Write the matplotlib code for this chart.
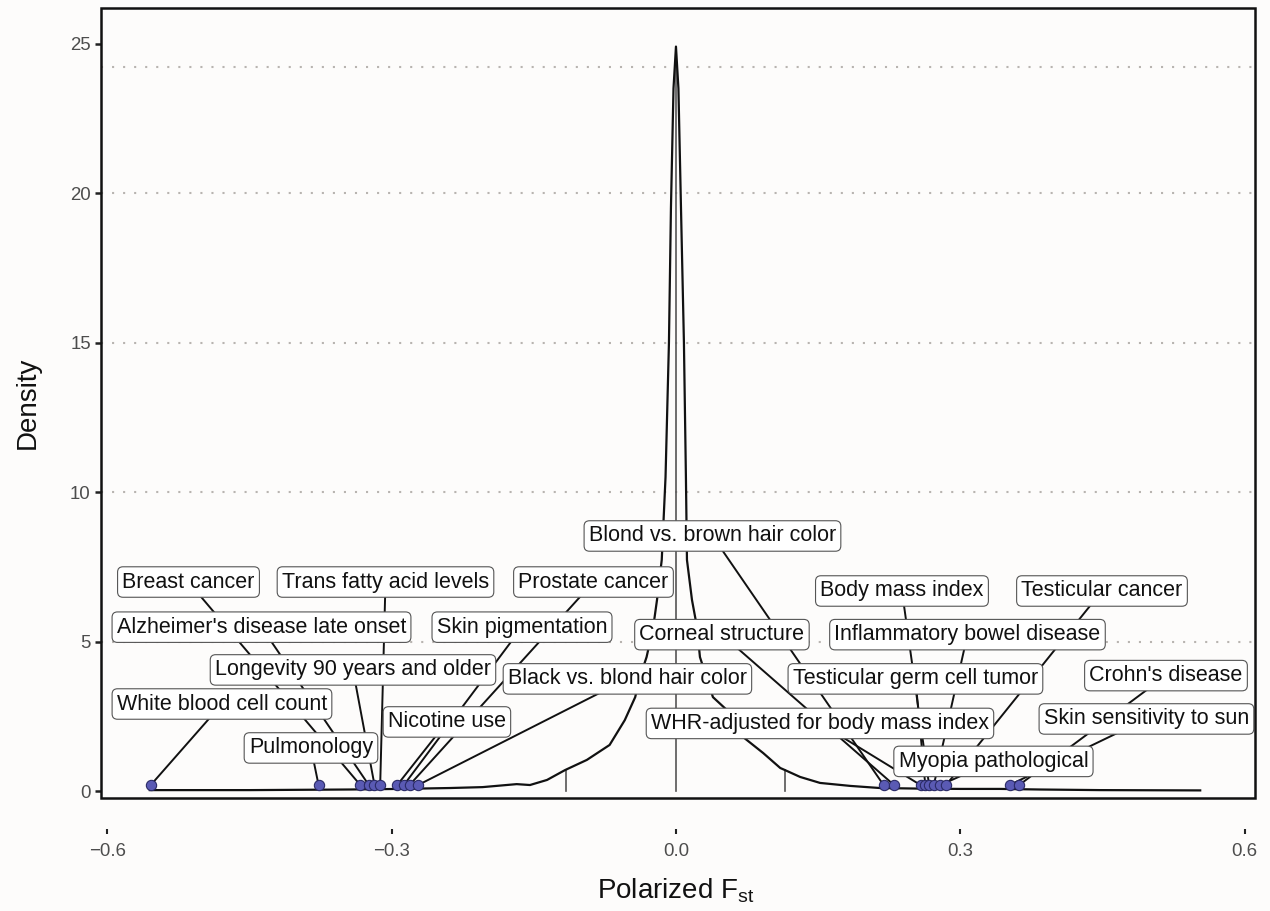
import matplotlib
matplotlib.use("Agg")
import matplotlib.pyplot as plt
import numpy as np
from matplotlib.patches import Rectangle

# ---------------- data ----------------
curve_x = [-0.555, -0.449, -0.344, -0.291, -0.238, -0.204, -0.186, -0.168, -0.154,
           -0.136, -0.117, -0.094, -0.070, -0.054, -0.043, -0.038, -0.031, -0.024,
           -0.020, -0.015, -0.011, -0.0074, -0.0053, -0.0026, 0.0, 0.0026, 0.0053,
           0.0084, 0.0105, 0.0116, 0.0169, 0.0222, 0.0253, 0.039, 0.054, 0.071,
           0.092, 0.110, 0.115, 0.131, 0.152, 0.184, 0.215, 0.257, 0.300, 0.342,
           0.384, 0.447, 0.553]
curve_y = [0.03, 0.03, 0.05, 0.07, 0.10, 0.13, 0.18, 0.23, 0.20,
           0.37, 0.70, 1.04, 1.54, 2.37, 3.14, 3.81, 4.48, 5.48,
           6.39, 7.73, 10.5, 15.0, 19.5, 23.5, 24.9, 23.5, 19.5,
           15.0, 10.5, 7.73, 6.39, 5.48, 4.48, 3.14, 2.70, 1.80,
           1.27, 0.77, 0.70, 0.47, 0.27, 0.17, 0.10, 0.08, 0.07, 0.07,
           0.05, 0.03, 0.02]

quantile_lines = [-0.116, 0.0, 0.115]

traits = ["White blood cell count", "Pulmonology", "Breast cancer",
          "Alzheimer's disease late onset", "Longevity 90 years and older",
          "Trans fatty acid levels", "Nicotine use", "Skin pigmentation",
          "Prostate cancer", "Black vs. blond hair color",
          "Blond vs. brown hair color", "Corneal structure",
          "WHR-adjusted for body mass index", "Testicular germ cell tumor",
          "Body mass index", "Inflammatory bowel disease", "Myopia pathological",
          "Testicular cancer", "Skin sensitivity to sun", "Crohn's disease"]
trait_fst = [-0.554, -0.377, -0.333, -0.324, -0.318, -0.312, -0.294, -0.287,
             -0.281, -0.272, 0.219, 0.230, 0.258, 0.263, 0.267, 0.272, 0.279,
             0.285, 0.352, 0.362]
point_level = 0.2

y_ticks = [0, 5, 10, 15, 20, 25]
x_ticks = [-0.6, -0.3, 0.0, 0.3, 0.6]
x_tick_labels = ["\u22120.6", "\u22120.3", "0.0", "0.3", "0.6"]
grid_levels = [5, 10, 15, 20, 24.2]

# label layout (label centres, data coordinates)
label_x = [-0.4789, -0.385, -0.5142, -0.4372, -0.3407, -0.3064, -0.2416, -0.1624,
           -0.087, -0.0512, 0.0385, 0.0485, 0.1519, 0.2526, 0.2384, 0.3075,
           0.3349, 0.4494, 0.4963, 0.5169]
label_y = [2.91, 1.44, 6.99, 5.48, 4.05, 6.99, 2.31, 5.48, 6.99, 3.75,
           8.53, 5.23, 2.26, 3.75, 6.69, 5.23, 0.99, 6.69, 2.41, 3.86]

# ---------------- figure ----------------
W, H = 1270, 911
bg = "#fdfcfb"
fig = plt.figure(figsize=(W / 100, H / 100), dpi=100, facecolor=bg)
ax = fig.add_axes([101 / W, 1 - 798 / H, (1255 - 101) / W, (798 - 8) / H])
ax.set_facecolor(bg)
ax.set_xlim(-0.6065, 0.6108)
ax.set_ylim(-0.234, 26.19)

for g in grid_levels:
    ax.axhline(g, color="#b8b4b0", lw=1.5, ls=(0, (1, 4.3)), zorder=1)

for q in quantile_lines:
    ax.plot([q, q], [0, np.interp(q, curve_x, curve_y)], color="#555555",
            lw=1.2, zorder=2)

ax.plot(curve_x, curve_y, color="#111111", lw=1.6, zorder=3,
        solid_joinstyle="round")

for lx, ly, fx in zip(label_x, label_y, trait_fst):
    ax.plot([lx, fx], [ly, point_level], color="#111111", lw=1.4, zorder=4)

ax.scatter(trait_fst, [point_level] * len(trait_fst), s=55, facecolor="#5a5ab4",
           edgecolor="#2b2b66", linewidth=0.8, zorder=6)

for name, lx, ly in zip(traits, label_x, label_y):
    ax.text(lx, ly, name, ha="center", va="center", fontsize=15.5,
            family="Liberation Sans", color="#111111", zorder=7,
            bbox=dict(boxstyle="round,pad=0.22,rounding_size=0.25", fc="white",
                      ec="#555555", lw=0.8))

# axes decorations
for s in ax.spines.values():
    s.set_visible(False)
ax.spines["bottom"].set_position(("outward", 22.3))
ax.add_patch(Rectangle((0, 0), 1, 1, transform=ax.transAxes, fill=False,
                       lw=1.8, ec="#111111", clip_on=False, zorder=10))

ax.set_yticks(y_ticks)
ax.set_xticks(x_ticks)
ax.set_xticklabels(x_tick_labels)
ax.tick_params(axis="y", length=4.3, width=1.8, color="#222222", pad=3,
               labelsize=13.4, labelcolor="#4d4d4d")
ax.tick_params(axis="x", length=3.6, width=1.5, color="#222222", pad=6.5,
               labelsize=13.4, labelcolor="#4d4d4d")
for t in ax.get_xticklabels() + ax.get_yticklabels():
    t.set_family("Liberation Sans")

plt.rcParams["mathtext.fontset"] = "custom"
plt.rcParams["mathtext.rm"] = "Liberation Sans"
fig.text(676 / W, 1 - 898 / H, r"Polarized F$_{\mathrm{st}}$", ha="center",
         va="baseline", fontsize=20, family="Liberation Sans", color="#111111")
fig.text(28 / W, 1 - 403 / H, "Density", ha="center", va="center",
         rotation=90, fontsize=20, family="Liberation Sans", color="#111111")

fig.savefig("out.png", dpi=100, facecolor=bg)
